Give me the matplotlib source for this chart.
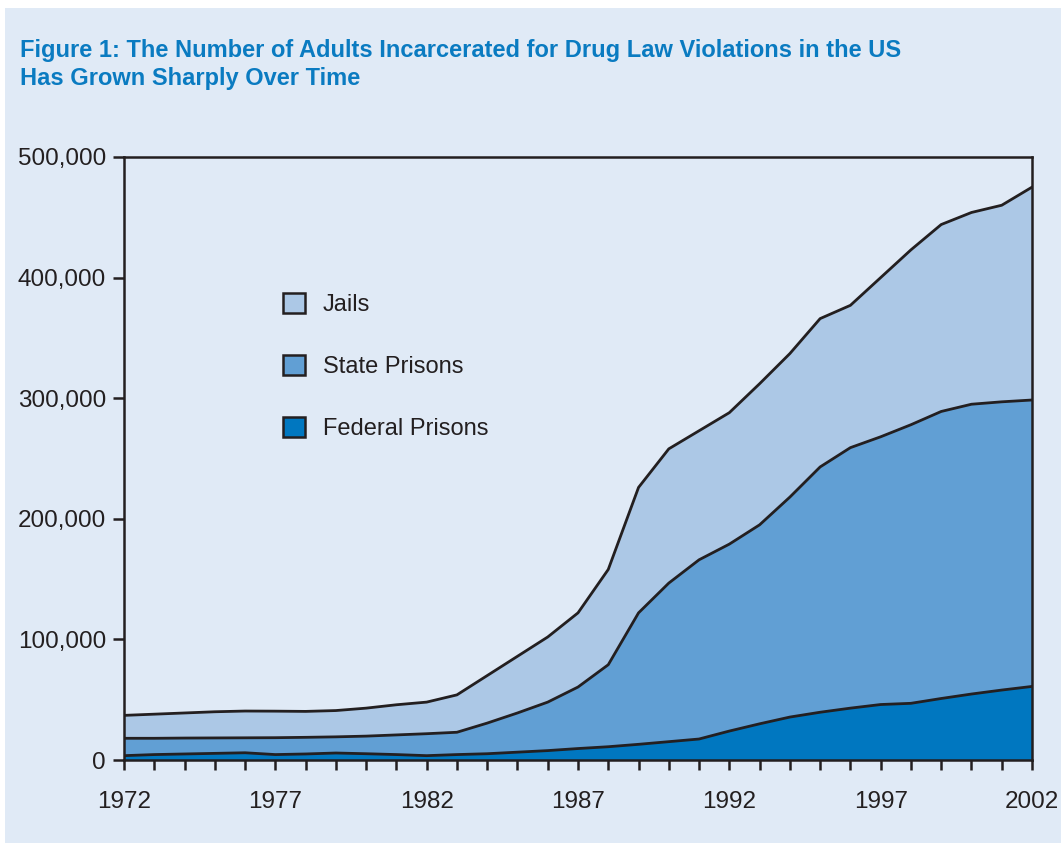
import matplotlib
matplotlib.use("Agg")
import matplotlib.pyplot as plt
import matplotlib.patches as mpatches
from matplotlib.ticker import FuncFormatter, MultipleLocator, FixedLocator
import numpy as np

# values, in thousands
years = list(range(1972, 2003))
federal = [3.6, 4.5, 5.0, 5.5, 6.0, 4.5, 5.0, 5.8, 5.2, 4.5, 3.6,
           4.5, 5.2, 6.5, 7.8, 9.5, 11.0, 13.0, 15.2, 17.4, 24.0,
           30.0, 35.6, 39.6, 43.0, 46.0, 47.0, 51.0, 54.7, 58.0, 61.0]
# federal + state (middle boundary)
fed_state = [18.0, 18.0, 18.2, 18.3, 18.4, 18.5, 18.8, 19.2, 19.8, 20.8, 21.8,
             23.0, 30.6, 39.0, 48.0, 60.5, 79.0, 122.0, 146.7, 166.0, 179.0,
             195.0, 218.0, 243.0, 259.0, 268.0, 278.0, 289.0, 295.0, 297.0, 298.5]
# all three (top boundary)
total = [37.0, 38.0, 39.0, 40.0, 40.6, 40.5, 40.3, 41.0, 43.0, 45.8, 48.0,
         54.0, 70.0, 86.0, 102.0, 122.0, 158.0, 226.0, 258.0, 273.0, 288.0,
         312.0, 337.0, 366.0, 377.0, 400.0, 423.0, 444.0, 454.0, 460.0, 475.0]

state = [b - a for a, b in zip(federal, fed_state)]
jails = [c - b for b, c in zip(fed_state, total)]

labels = ["Jails", "State Prisons", "Federal Prisons"]
tick_years = years[::5]
colors = {"Federal Prisons": "#0077c0", "State Prisons": "#619fd4", "Jails": "#acc8e6"}
bg = "#e0eaf6"
ink = "#231f20"

plt.rcParams["font.family"] = ["Liberation Sans", "DejaVu Sans"]

fig = plt.figure(figsize=(10.61, 8.46), dpi=100)
fig.patch.set_facecolor("white")
fig.patches.append(mpatches.Rectangle((5 / 1061, 3 / 846), 1.0, 835 / 846,
                                      transform=fig.transFigure, facecolor=bg,
                                      edgecolor="none", zorder=-10))

ax = fig.add_axes([124 / 1061, 86 / 846, 908 / 1061, 603 / 846])
ax.set_facecolor(bg)

x = np.array(years)
vals = np.array([federal, state, jails]) * 1000
ax.stackplot(x, vals, colors=[colors["Federal Prisons"], colors["State Prisons"], colors["Jails"]],
             linewidth=0)
for line in np.cumsum(vals, axis=0):
    ax.plot(x, line, color=ink, lw=2.0, solid_joinstyle="round")

ax.set_xlim(1972, 2002)
ax.set_ylim(0, 500000)
ax.xaxis.set_major_locator(FixedLocator(tick_years))
ax.xaxis.set_minor_locator(MultipleLocator(1))
ax.yaxis.set_major_locator(MultipleLocator(100000))
ax.yaxis.set_major_formatter(FuncFormatter(lambda v, p: f"{int(v):,}"))

for s in ax.spines.values():
    s.set_color(ink)
    s.set_linewidth(1.8)
ax.tick_params(axis="x", which="both", direction="out", length=7, width=1.8,
               color=ink, labelsize=17.5, pad=15, labelcolor=ink)
ax.tick_params(axis="y", direction="out", length=8, width=1.8, color=ink,
               labelsize=17.5, pad=5, labelcolor=ink)

handles = [mpatches.Patch(facecolor=colors[l], edgecolor=ink, linewidth=1.8) for l in labels]
ax.legend(handles, labels, loc="upper left", bbox_to_anchor=(283 / 1061, 1 - 293 / 846),
          bbox_transform=fig.transFigure, frameon=False, fontsize=17,
          handlelength=0.93, handleheight=0.93, handletextpad=0.75,
          labelspacing=1.64, borderpad=0, borderaxespad=0, labelcolor=ink)

fig.text(20 / 1061, 1 - 39 / 846,
         "Figure 1: The Number of Adults Incarcerated for Drug Law Violations in the US\n"
         "Has Grown Sharply Over Time",
         ha="left", va="top", fontsize=17, fontweight="bold", color="#0a7bc1",
         family=["Liberation Sans", "DejaVu Sans"], linespacing=1.25)

fig.savefig("out.png", dpi=100, facecolor=fig.get_facecolor())
